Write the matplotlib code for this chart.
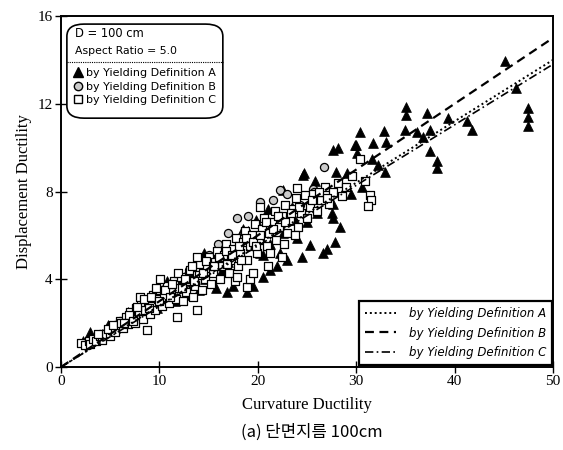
import matplotlib
matplotlib.use('Agg')
import matplotlib.pyplot as plt
from matplotlib.patches import FancyBboxPatch
from matplotlib.lines import Line2D

# Yielding definition A (filled triangles)
a_x = [2.2, 3.0, 3.5, 4.2, 4.8, 5.5, 6.2, 6.8, 7.4, 8.0, 8.6, 9.2, 9.8, 10.4, 11.0, 11.6,
       12.2, 12.8, 13.4, 14.0, 14.6, 15.2, 15.8, 16.4, 16.9, 17.5, 18.0, 18.9, 19.5, 20.5,
       20.2, 21.2, 22.0, 21.2, 22.3, 20.5, 22.6, 24.0, 25.3, 27.0, 27.8, 26.6, 23.0, 24.5,
       17.0, 18.5, 16.0, 14.5, 19.8, 21.0, 23.5, 22.6, 24.7, 25.8, 28.0, 29.1, 30.6, 27.6,
       27.5, 28.4, 30.4, 30.0, 31.7, 27.6, 28.2, 30.1, 35.1, 35.1, 37.2, 39.3, 41.3, 41.8,
       32.8, 35.0, 36.2, 37.5, 33.0, 37.5, 38.2, 38.2, 32.9, 32.2, 31.6, 36.8, 45.1, 46.2,
       47.5, 47.5, 47.5, 29.5, 26.0, 25.0, 23.8, 24.6, 29.9, 27.6, 19.0, 15.5, 13.0, 10.8]
a_y = [1.2, 1.6, 1.3, 1.5, 1.9, 1.8, 2.1, 2.5, 2.3, 2.8, 2.5, 3.1, 2.7, 3.3, 3.6, 3.0,
       3.9, 3.3, 4.3, 3.5, 4.0, 4.8, 3.6, 4.4, 3.4, 3.7, 5.3, 3.4, 3.7, 4.1,
       5.2, 5.6, 4.6, 4.4, 5.2, 5.1, 6.1, 5.9, 5.55, 5.4, 5.7, 5.2, 4.9, 5.0,
       4.8, 6.3, 5.5, 5.2, 6.7, 7.2, 7.3, 8.05, 8.85, 8.5, 8.9, 8.85, 8.2, 7.45,
       7.0, 6.4, 10.7, 10.1, 10.2, 9.9, 10.0, 9.75, 11.85, 11.5, 11.6, 11.35, 11.2, 10.8,
       10.75, 10.8, 10.7, 10.8, 10.25, 9.85, 9.4, 9.05, 8.9, 9.2, 9.5, 10.5, 13.95, 12.7,
       11.8, 11.4, 11.0, 7.9, 7.0, 6.6, 6.7, 8.75, 10.1, 6.8, 6.2, 5.0, 4.5, 3.9]

# Yielding definition B (grey circles)
b_x = [2.3, 3.2, 4.0, 5.0, 6.0, 7.0, 8.0, 9.0, 10.0, 11.0, 12.0, 13.0, 14.0, 15.0, 16.0,
       17.0, 17.9, 19.0, 20.2, 21.5, 22.3, 23.0, 25.6, 25.7, 26.7, 24.3, 18.5, 16.5, 12.5, 9.5]
b_y = [1.1, 1.3, 1.5, 1.8, 2.1, 2.4, 2.8, 3.1, 3.4, 3.7, 4.1, 4.4, 4.8, 5.1, 5.6,
       6.1, 6.8, 6.9, 7.5, 7.6, 8.05, 7.9, 8.1, 8.0, 9.1, 7.4, 6.0, 5.3, 3.8, 3.0]

# Yielding definition C (open squares)
c_x = [2.0, 2.4, 2.8, 3.0, 3.3, 3.6, 4.0, 4.2, 4.6, 5.0, 5.2, 4.8,
       5.5, 5.8, 6.0, 6.3, 6.6, 6.8, 7.0, 7.2, 7.5, 7.6, 7.9, 8.1, 8.3, 8.5, 8.8, 9.0, 9.2,
       9.4, 9.6, 9.9, 10.1,
       10.3, 10.5, 10.8, 11.0, 11.2, 11.5, 11.7, 12.0, 12.2, 12.4, 12.7, 12.9, 13.1, 13.4,
       13.6, 13.8, 14.1, 14.3, 14.6, 14.8, 15.0,
       15.2, 15.5, 15.7, 15.9, 16.2, 16.4, 16.6, 16.8, 17.1, 17.3, 17.5, 17.8, 18.0, 18.2,
       18.5, 18.7, 18.9, 19.2, 19.4, 19.7, 19.9,
       20.1, 20.4, 20.6, 20.9, 21.1, 21.4, 21.7, 21.9, 22.2, 22.5, 22.8, 23.0, 23.3, 23.6,
       23.9, 24.1, 24.4, 24.8, 24.0, 25.0,
       25.3, 25.6, 26.0, 26.4, 26.8, 27.2, 27.6, 28.2, 29.0, 29.6, 30.4, 30.9, 31.4, 31.5,
       31.2, 28.6,
       8.7, 11.8, 13.8, 17.7, 18.9, 19.2, 17.9, 19.5, 13.8, 10.1, 8.0, 20.2, 21.0, 22.5,
       3.8, 5.3, 6.1, 6.9, 7.7, 8.4, 9.1, 9.7, 10.6, 11.3, 11.9, 12.6, 13.3, 14.0, 14.7,
       15.4, 16.1, 16.8, 17.4, 18.1, 18.8, 19.5, 20.2, 20.8, 21.5, 22.1, 22.8, 23.4, 24.2,
       25.5, 26.2, 27.0,
       6.4, 7.3, 8.9, 10.0, 11.1, 12.3, 13.5, 14.4, 15.6, 16.9, 18.3, 19.8, 21.2, 22.7, 23.8]
c_y = [1.1, 1.0, 1.2, 1.05, 1.3, 1.2, 1.4, 1.25, 1.5, 1.4, 1.7, 1.75,
       1.6, 1.9, 2.1, 1.8, 2.3, 1.95, 2.5, 2.2, 2.0, 2.7, 2.4, 2.9, 2.2, 2.6, 3.0, 2.4, 2.8,
       3.3, 2.6, 3.1, 3.5,
       2.8, 3.2, 3.7, 2.9, 3.4, 3.9, 3.1, 3.6, 4.1, 3.0, 3.4, 3.9, 4.4, 3.2,
       3.7, 4.2, 4.7, 3.5, 4.0, 4.5, 5.0,
       3.8, 4.3, 4.8, 5.3, 4.0, 4.6, 5.1, 5.6, 4.3, 4.9, 5.4, 5.9, 4.6, 5.2,
       5.7, 6.2, 4.9, 5.5, 6.0, 6.5, 5.2,
       5.8, 6.3, 6.8, 5.5, 6.1, 6.6, 7.1, 5.8, 6.4, 6.9, 7.4, 6.1, 6.7, 7.2,
       7.7, 6.4, 7.0, 7.85, 8.15, 6.8,
       7.3, 7.9, 7.1, 7.6, 8.2, 7.45, 8.0, 8.4, 8.2, 8.7, 9.5, 8.5, 7.85, 7.6,
       7.35, 7.8,
       1.7, 2.3, 2.6, 3.9, 3.65, 4.0, 4.1, 4.3, 5.0, 4.0, 3.2, 7.3, 4.6, 5.0,
       1.5, 1.9, 2.0, 2.35, 2.75, 3.1, 3.2, 3.6, 3.5, 3.8, 4.3, 4.0, 4.6, 4.2, 4.85,
       4.6, 5.0, 5.3, 5.1, 5.5, 5.9, 5.7, 6.0, 6.6, 6.3, 6.9, 6.6, 7.0, 7.3,
       7.6, 8.0, 7.7,
       2.0, 2.1, 2.7, 3.0, 3.2, 3.6, 3.9, 4.3, 4.6, 4.7, 4.9, 5.5, 5.2, 5.6, 6.0]

# regression lines
fit_x = [0, 50]
fit_a = [0, 14.0]
fit_b = [0, 15.0]
fit_c = [0, 13.8]

plt.rcParams['font.family'] = ['Liberation Serif', 'DejaVu Serif']
fig = plt.figure(figsize=(5.63, 4.5), dpi=100)
ax = fig.add_axes([0.1083, 0.1844, 0.8739, 0.78])

ax.scatter(a_x, a_y, marker='^', s=50, c='black', linewidths=0.5, zorder=3)
ax.scatter(b_x, b_y, marker='o', s=34, c='#cccccc', edgecolors='black', linewidths=0.9, zorder=3)
ax.scatter(c_x, c_y, marker='s', s=36, c='white', edgecolors='black', linewidths=0.9, zorder=3)

la, = ax.plot(fit_x, fit_a, color='black', lw=1.4, ls=(0, (1, 1.5)), zorder=4)
lb, = ax.plot(fit_x, fit_b, color='black', lw=1.6, ls=(0, (4, 2.5)), zorder=4)
lc, = ax.plot(fit_x, fit_c, color='black', lw=1.2, ls=(0, (5, 2, 1, 2)), zorder=4)

ax.set_xlim(0, 50)
ax.set_ylim(0, 16)
ax.set_xticks([0, 10, 20, 30, 40, 50])
ax.set_yticks([0, 4, 8, 12, 16])
ax.tick_params(direction='inout', length=8, width=1, labelsize=11, pad=2)
for s in ax.spines.values():
    s.set_linewidth(1.4)
ax.set_xlabel('Curvature Ductility', fontsize=12, labelpad=6)
ax.set_ylabel('Displacement Ductility', fontsize=12, labelpad=4)

# marker legend in rounded box
box = FancyBboxPatch((0.012, 0.709), 0.317, 0.268, boxstyle='round,pad=0,rounding_size=0.035',
                     transform=ax.transAxes, fc='white', ec='black', lw=1.2, zorder=5)
ax.add_patch(box)
sans = 'DejaVu Sans'
ax.text(0.028, 0.949, 'D = 100 cm', transform=ax.transAxes, family=sans, fontsize=8.3,
        va='center', zorder=6)
ax.text(0.028, 0.899, 'Aspect Ratio = 5.0', transform=ax.transAxes, family=sans, fontsize=7.8,
        va='center', zorder=6)
ax.plot([0.012, 0.329], [0.869, 0.869], transform=ax.transAxes, color='black', lw=0.8,
        ls=(0, (1, 1)), zorder=6)
h1 = [Line2D([], [], marker='^', ls='', color='black', markersize=6.5),
      Line2D([], [], marker='o', ls='', mfc='#cccccc', mec='black', markersize=6),
      Line2D([], [], marker='s', ls='', mfc='white', mec='black', markersize=6)]
leg1 = ax.legend(h1, ['by Yielding Definition A', 'by Yielding Definition B',
                      'by Yielding Definition C'],
                 loc='upper left', bbox_to_anchor=(0.012, 0.872), frameon=False,
                 prop={'family': sans, 'size': 8.0}, handlelength=0.7, handletextpad=0.35,
                 labelspacing=0.32, borderaxespad=0.25)
leg1.set_zorder(7)
ax.add_artist(leg1)

# line legend
leg2 = ax.legend([la, lb, lc], ['by Yielding Definition A', 'by Yielding Definition B',
                                'by Yielding Definition C'],
                 loc='lower right', bbox_to_anchor=(0.998, 0.006), fancybox=False,
                 edgecolor='black', framealpha=1,
                 prop={'family': sans, 'size': 8.5, 'style': 'italic'},
                 handlelength=2.6, handletextpad=1.1, labelspacing=0.55, borderaxespad=0.0,
                 borderpad=0.5)
leg2.get_frame().set_linewidth(1.6)

fig.text(0.553, 0.04, '(a) 단면지름 100cm', ha='center', va='center', fontsize=12,
         family=['Noto Sans CJK KR', 'DejaVu Sans'])

fig.savefig('out.png', dpi=100)
